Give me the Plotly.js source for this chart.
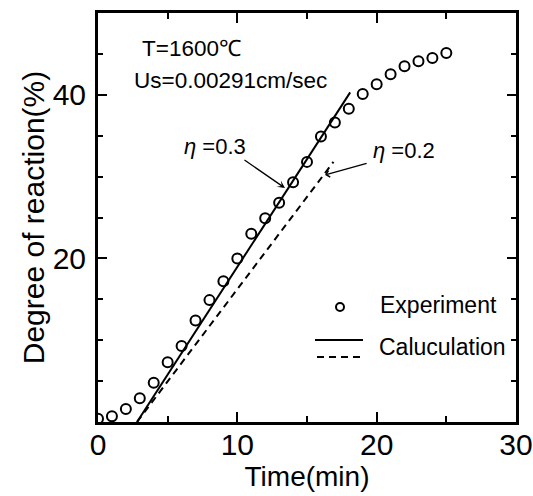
<!DOCTYPE html>
<html>
<head>
<meta charset="utf-8">
<script src="https://cdn.plot.ly/plotly-3.0.1.min.js"></script>
<style>html,body{margin:0;padding:0;background:#fff;}#chart{width:533px;height:496px;}</style>
</head>
<body>
<div id="chart"></div>
<script>
// Experimental data
var expTime = [0,1,2,3,4,5,6,7,8,9,10,11,12,13,14,15,16,17,18,19,20,21,22,23,24,25];
var expDegree = [0.4,0.7,1.6,2.9,4.8,7.3,9.3,12.4,14.9,17.2,20.0,23.0,24.9,26.8,29.3,31.8,34.9,36.6,38.3,40.1,41.3,42.5,43.5,44.1,44.5,45.1];
// Calculation, eta = 0.3 (solid)
var calc03Time = [2.8, 18.1];
var calc03Degree = [0, 40.3];
// Calculation, eta = 0.2 (dashed)
var calc02Time = [2.8, 16.9];
var calc02Degree = [0, 31.8];
// Tick labels
var xTicks = [0, 10, 20, 30];
var yTicks = [20, 40];

var FONT = "Liberation Sans, Arial, Helvetica, sans-serif";

var traces = [
  {x: calc03Time, y: calc03Degree, mode: 'lines', name: 'η=0.3',
   line: {color: '#000', width: 2}, showlegend: false},
  {x: calc02Time, y: calc02Degree, mode: 'lines', name: 'η=0.2',
   line: {color: '#000', width: 2, dash: '7px,5px'}, showlegend: false},
  {x: expTime, y: expDegree, mode: 'markers', name: 'Experiment',
   marker: {symbol: 'circle-open', size: 10, color: '#000', line: {color: '#000', width: 2}},
   showlegend: false}
];

// plot area: x 98..516 px, y 13..422 px
function px(p){ return (p - 98) / 418; }
function py(p){ return (422 - p) / 409; }

var axisCommon = {
  ticks: 'inside', tickwidth: 2, tickcolor: '#000',
  showline: true, linewidth: 3, linecolor: '#000', mirror: 'allticks',
  showgrid: false, zeroline: false
};

var layout = {
  width: 533, height: 496,
  margin: {l: 98, r: 17, t: 13, b: 74},
  paper_bgcolor: '#fff', plot_bgcolor: '#fff',
  font: {family: FONT, color: '#000'},
  showlegend: false,
  xaxis: Object.assign({}, axisCommon, {
    range: [0, 30], tickmode: 'array', tickvals: xTicks, ticktext: xTicks.map(String),
    ticklen: 10,
    minor: {tickmode: 'linear', tick0: 0, dtick: 5, ticks: 'inside', ticklen: 6, tickwidth: 2, tickcolor: '#000'},
    tickfont: {size: 30, family: FONT},
    ticklabelstandoff: -6,
    title: {text: 'Time(min)', font: {size: 28, family: FONT}, standoff: 4}
  }),
  yaxis: Object.assign({}, axisCommon, {
    range: [0, 50], tickmode: 'array', tickvals: yTicks, ticktext: yTicks.map(String),
    ticklen: 9,
    minor: {tickmode: 'linear', tick0: 0, dtick: 5, ticks: 'inside', ticklen: 5, tickwidth: 2, tickcolor: '#000'},
    tickfont: {size: 30, family: FONT},
    ticklabelstandoff: 3,
    title: {text: 'Degree of reaction(%)', font: {size: 30, family: FONT}, standoff: 0}
  }),
  annotations: [
    {xref: 'paper', yref: 'paper', x: px(140), y: py(48), xanchor: 'left', yanchor: 'middle',
     text: 'T=1600℃', showarrow: false, font: {size: 22.5, family: FONT}},
    {xref: 'paper', yref: 'paper', x: px(132), y: py(80), xanchor: 'left', yanchor: 'middle',
     text: 'Us=0.00291cm/sec', showarrow: false, font: {size: 22.5, family: FONT}},
    {xref: 'paper', yref: 'paper', x: px(215), y: py(147), xanchor: 'center', yanchor: 'middle',
     text: '<i>η</i> =0.3', showarrow: false, font: {size: 22, family: FONT}},
    {xref: 'paper', yref: 'paper', x: px(404), y: py(150), xanchor: 'center', yanchor: 'middle',
     text: '<i>η</i> =0.2', showarrow: false, font: {size: 22, family: FONT}},
    {x: 13.42, y: 28.6, text: '', showarrow: true, ax: -42, ay: -29,
     arrowhead: 3, arrowsize: 1, arrowwidth: 1.3, arrowcolor: '#000'},
    {x: 16.3, y: 30.2, text: '', showarrow: true, ax: 43, ay: -12,
     arrowhead: 4, arrowsize: 1, arrowwidth: 1.3, arrowcolor: '#000'},
    {xref: 'paper', yref: 'paper', x: px(378), y: py(305), xanchor: 'left', yanchor: 'middle',
     text: 'Experiment', showarrow: false, font: {size: 23, family: FONT}},
    {xref: 'paper', yref: 'paper', x: px(377), y: py(347), xanchor: 'left', yanchor: 'middle',
     text: 'Caluculation', showarrow: false, font: {size: 23, family: FONT}}
  ],
  shapes: [
    {type: 'circle', xref: 'paper', yref: 'paper', xsizemode: 'pixel', ysizemode: 'pixel',
     xanchor: px(340), yanchor: py(307), x0: -4, x1: 4, y0: -4, y1: 4,
     line: {color: '#000', width: 2}},
    {type: 'line', xref: 'paper', yref: 'paper', x0: px(315), x1: px(363), y0: py(340), y1: py(340),
     line: {color: '#000', width: 2}},
    {type: 'line', xref: 'paper', yref: 'paper', x0: px(317), x1: px(365), y0: py(357), y1: py(357),
     line: {color: '#000', width: 2, dash: '7px,5px'}}
  ]
};

Plotly.newPlot('chart', traces, layout, {displayModeBar: false, staticPlot: true});
</script>
</body>
</html>
